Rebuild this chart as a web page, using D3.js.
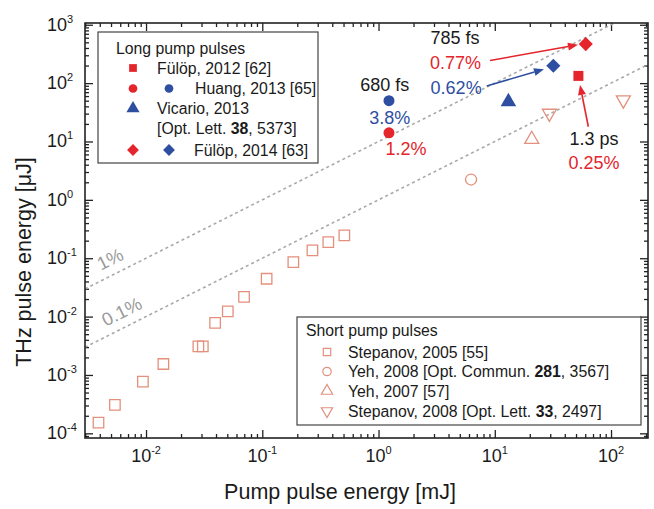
<!DOCTYPE html>
<html>
<head>
<meta charset="utf-8">
<script src="https://cdn.jsdelivr.net/npm/d3@7/dist/d3.min.js"></script>
<style>
  body { margin: 0; background: #fff; }
  svg { display: block; font-family: Arial, "Liberation Sans", sans-serif; }
</style>
</head>
<body>
<svg id="chart" width="654" height="509"></svg>
<script>
// ---------- data ----------
const stepanov2005X = [0.0039, 0.0054, 0.0094, 0.0141, 0.0282, 0.0308, 0.0393, 0.0505, 0.0697, 0.109, 0.185, 0.27, 0.37, 0.508];
const stepanov2005Y = [1.53e-4, 3.08e-4, 7.7e-4, 1.54e-3, 3.09e-3, 3.09e-3, 7.8e-3, 0.0123, 0.0218, 0.0445, 0.0857, 0.136, 0.189, 0.246];
const yeh2008X = [6.25];
const yeh2008Y = [2.23];
const yeh2007X = [20.8];
const yeh2007Y = [10.9];
const stepanov2008X = [29.5, 127.6];
const stepanov2008Y = [30.4, 51.4];
const fulop2012X = [52.4];
const fulop2012Y = [133];
const huangRedX = [1.23];
const huangRedY = [14.1];
const huangBlueX = [1.23];
const huangBlueY = [50];
const vicarioX = [13.1];
const vicarioY = [48];
const fulop2014RedX = [60.6];
const fulop2014RedY = [466];
const fulop2014BlueX = [31.9];
const fulop2014BlueY = [198];

const efficiencyLines = [0.01, 0.001];           // 1 %, 0.1 %
const efficiencyLabels = ["1%", "0.1%"];
const efficiencyLabelX = [0.0041, 0.0045];

const xTickExponents = [-2, -1, 0, 1, 2];
const yTickExponents = [-4, -3, -2, -1, 0, 1, 2, 3];

const annotationText = ["785 fs", "0.77%", "680 fs", "0.62%", "3.8%", "1.2%", "1.3 ps", "0.25%"];
const annotationX = [4.55, 4.6, 1.13, 4.65, 1.25, 1.72, 71.4, 71.4];
const annotationY = [590, 225, 93, 81.7, 24.9, 7.31, 10.9, 4.2];
const annotationColor = ["black", "red", "black", "blue", "blue", "red", "black", "red"];

const arrowFromX = [9.1, 8.53, 63.8];
const arrowFromY = [244, 89.5, 17.9];
const arrowToX = [52, 26.5, 54.1];
const arrowToY = [453, 173, 93];
const arrowColor = ["red", "blue", "red"];

// ---------- style ----------
const C = { red: "#e4252b", blue: "#2e4fa1", salmon: "#e3907c", black: "#1a1a1a", gray: "#a9a9a9", frame: "#222" };

const svg = d3.select("#chart");
const L = 85, R = 648, T = 23, B = 438;
const x = d3.scaleLog().domain([Math.pow(10, -2.525), Math.pow(10, 2.318)]).range([L, R]);
const y = d3.scaleLog().domain([Math.pow(10, -4.08), Math.pow(10, 3.03)]).range([B, T]);

const clipId = "plotclip";
svg.append("clipPath").attr("id", clipId).append("rect").attr("x", L).attr("y", T).attr("width", R - L).attr("height", B - T);

// ---------- ticks ----------
function minorTicks(scale) {
  const [a, b] = scale.domain();
  const out = [];
  for (let e = Math.floor(Math.log10(a)); e <= Math.ceil(Math.log10(b)); e++) {
    for (let k = 2; k <= 9; k++) {
      const v = k * Math.pow(10, e);
      if (v >= a && v <= b) out.push(v);
    }
  }
  return out;
}
const xMajor = xTickExponents.map(e => Math.pow(10, e));
const yMajor = yTickExponents.map(e => Math.pow(10, e));
const xMinor = minorTicks(x);
const yMinor = minorTicks(y);

function addAxis(gen, scale, vals, size, transform) {
  const g = svg.append("g").attr("transform", transform)
    .call(gen(scale).tickValues(vals).tickSize(size).tickFormat(""));
  g.select(".domain").remove();
  g.selectAll(".tick line").attr("stroke", C.frame).attr("stroke-width", 1.3);
}
addAxis(d3.axisBottom, x, xMinor, -4, `translate(0,${B})`);
addAxis(d3.axisBottom, x, xMajor, -8, `translate(0,${B})`);
addAxis(d3.axisTop, x, xMinor, -4, `translate(0,${T})`);
addAxis(d3.axisTop, x, xMajor, -8, `translate(0,${T})`);
addAxis(d3.axisLeft, y, yMinor, -4, `translate(${L},0)`);
addAxis(d3.axisLeft, y, yMajor, -8, `translate(${L},0)`);
addAxis(d3.axisRight, y, yMinor, -4, `translate(${R},0)`);
addAxis(d3.axisRight, y, yMajor, -8, `translate(${R},0)`);

// tick labels
const xl = svg.append("g").attr("fill", C.black).attr("font-size", 18);
xTickExponents.forEach(e => {
  const t = xl.append("text").attr("x", x(Math.pow(10, e))).attr("y", 462).attr("text-anchor", "middle");
  t.append("tspan").text("10");
  t.append("tspan").attr("font-size", 11).attr("dy", -8).text(e);
});
const yl = svg.append("g").attr("fill", C.black).attr("font-size", 18);
yTickExponents.forEach(e => {
  const t = yl.append("text").attr("x", 47).attr("y", y(Math.pow(10, e)) + 6);
  t.append("tspan").text("10");
  t.append("tspan").attr("font-size", 11).attr("dy", -8).text(e);
});

// axis titles
svg.append("text").attr("x", 340).attr("y", 499).attr("text-anchor", "middle")
  .attr("font-size", 21.5).attr("fill", C.black).text("Pump pulse energy [mJ]");
svg.append("text").attr("transform", "translate(31,262) rotate(-90)").attr("text-anchor", "middle")
  .attr("font-size", 21.5).attr("fill", C.black).text("THz pulse energy [\u03bcJ]");

// ---------- efficiency lines ----------
const plot = svg.append("g").attr("clip-path", `url(#${clipId})`);
const [x0, x1] = x.domain();
efficiencyLines.forEach((eff, i) => {
  const f = v => v * 1000 * eff;   // mJ -> uJ
  plot.append("line")
    .attr("x1", x(x0)).attr("y1", y(f(x0))).attr("x2", x(x1)).attr("y2", y(f(x1)))
    .attr("stroke", C.gray).attr("stroke-width", 1.6).attr("stroke-dasharray", "3,3");
  const ang = Math.atan2(y(f(x1)) - y(f(x0)), x(x1) - x(x0)) * 180 / Math.PI;
  const lx = x(efficiencyLabelX[i]), ly = y(f(efficiencyLabelX[i])) - 10;
  svg.append("text").attr("transform", `translate(${lx},${ly}) rotate(${ang})`)
    .attr("text-anchor", "start").attr("font-size", 18.5).attr("fill", "#9a9a9a")
    .text(efficiencyLabels[i]);
});

// ---------- marker helpers ----------
const sym = (type, size) => d3.symbol().type(type).size(size)();
function pts(xs, ys) { return xs.map((v, i) => ({ x: v, y: ys[i] })); }
function drawSeries(g, data, type, size, fill, stroke, sw, rotate) {
  g.selectAll(null).data(data).enter().append("path")
    .attr("d", sym(type, size))
    .attr("transform", d => `translate(${x(d.x)},${y(d.y)})` + (rotate ? ` rotate(${rotate})` : ""))
    .attr("fill", fill).attr("stroke", stroke).attr("stroke-width", sw);
}

// short pump (open)
drawSeries(plot, pts(stepanov2005X, stepanov2005Y), d3.symbolSquare, 110, "none", C.salmon, 1.3);
drawSeries(plot, pts(yeh2008X, yeh2008Y), d3.symbolCircle, 95, "none", C.salmon, 1.3);
drawSeries(plot, pts(yeh2007X, yeh2007Y), d3.symbolTriangle, 85, "none", C.salmon, 1.3);
drawSeries(plot, pts(stepanov2008X, stepanov2008Y), d3.symbolTriangle, 85, "none", C.salmon, 1.3, 180);

// long pump (filled)
drawSeries(plot, pts(fulop2012X, fulop2012Y), d3.symbolSquare, 100, C.red, "none", 0);
drawSeries(plot, pts(huangRedX, huangRedY), d3.symbolCircle, 95, C.red, "none", 0);
drawSeries(plot, pts(huangBlueX, huangBlueY), d3.symbolCircle, 95, C.blue, "none", 0);
drawSeries(plot, pts(vicarioX, vicarioY), d3.symbolTriangle, 105, C.blue, "none", 0);
drawSeries(plot, pts(fulop2014RedX, fulop2014RedY), d3.symbolSquare, 100, C.red, "none", 0, 45);
drawSeries(plot, pts(fulop2014BlueX, fulop2014BlueY), d3.symbolSquare, 100, C.blue, "none", 0, 45);

// ---------- arrows ----------
const colorOf = { red: C.red, blue: C.blue, black: C.black };
arrowFromX.forEach((_, i) => {
  const xa = x(arrowFromX[i]), ya = y(arrowFromY[i]), xb = x(arrowToX[i]), yb = y(arrowToY[i]);
  const ang = Math.atan2(yb - ya, xb - xa);
  const hl = 10, hw = 4;
  const bx = xb - hl * Math.cos(ang), by = yb - hl * Math.sin(ang);
  svg.append("line").attr("x1", xa).attr("y1", ya).attr("x2", bx).attr("y2", by)
    .attr("stroke", colorOf[arrowColor[i]]).attr("stroke-width", 1.6);
  const px = -Math.sin(ang) * hw, py = Math.cos(ang) * hw;
  svg.append("path")
    .attr("d", `M${xb},${yb}L${bx + px},${by + py}L${bx - px},${by - py}Z`)
    .attr("fill", colorOf[arrowColor[i]]);
});

// ---------- annotations ----------
annotationText.forEach((t, i) => {
  svg.append("text").attr("x", x(annotationX[i])).attr("y", y(annotationY[i]))
    .attr("text-anchor", "middle").attr("dominant-baseline", "central")
    .attr("font-size", 18).attr("fill", colorOf[annotationColor[i]]).text(t);
});

// ---------- legend: long pump ----------
const lg = svg.append("g");
lg.append("rect").attr("x", 98).attr("y", 32).attr("width", 220).attr("height", 131)
  .attr("fill", "#fff").attr("stroke", "#444").attr("stroke-width", 1.2);
const lfs = 15.8;
lg.append("text").attr("x", 116).attr("y", 54).attr("font-size", lfs).attr("fill", C.black).text("Long pump pulses");
const lrow = [68, 88.5, 108.5, 128.5, 150];
function legSym(g, cx, cy, type, size, fill, stroke, rot) {
  g.append("path").attr("d", sym(type, size))
    .attr("transform", `translate(${cx},${cy})` + (rot ? ` rotate(${rot})` : ""))
    .attr("fill", fill).attr("stroke", stroke || "none").attr("stroke-width", stroke ? 1.2 : 0);
}
legSym(lg, 133, lrow[0], d3.symbolSquare, 60, C.red);
lg.append("text").attr("x", 157).attr("y", lrow[0] + 5.5).attr("font-size", lfs).attr("fill", C.black).text("Fülöp, 2012 [62]");
legSym(lg, 133, lrow[1], d3.symbolCircle, 60, C.red);
legSym(lg, 169, lrow[1], d3.symbolCircle, 60, C.blue);
lg.append("text").attr("x", 195).attr("y", lrow[1] + 5.5).attr("font-size", lfs).attr("fill", C.black).text("Huang, 2013 [65]");
legSym(lg, 133, lrow[2], d3.symbolTriangle, 75, C.blue);
lg.append("text").attr("x", 157).attr("y", lrow[2] + 5.5).attr("font-size", lfs).attr("fill", C.black).text("Vicario, 2013");
const ol = lg.append("text").attr("x", 157).attr("y", lrow[3] + 5.5).attr("font-size", lfs).attr("fill", C.black);
ol.append("tspan").text("[Opt. Lett. ");
ol.append("tspan").attr("font-weight", "bold").text("38");
ol.append("tspan").text(", 5373]");
legSym(lg, 133, lrow[4], d3.symbolSquare, 70, C.red, null, 45);
legSym(lg, 169, lrow[4], d3.symbolSquare, 70, C.blue, null, 45);
lg.append("text").attr("x", 194).attr("y", lrow[4] + 5.5).attr("font-size", lfs).attr("fill", C.black).text("Fülöp, 2014 [63]");

// ---------- legend: short pump ----------
const sg = svg.append("g");
sg.append("rect").attr("x", 297).attr("y", 317).attr("width", 344).attr("height", 108)
  .attr("fill", "#fff").attr("stroke", "#444").attr("stroke-width", 1.2);
sg.append("text").attr("x", 306).attr("y", 336).attr("font-size", lfs).attr("fill", C.black).text("Short pump pulses");
const srow = [352, 371.5, 391, 411];
legSym(sg, 327, srow[0], d3.symbolSquare, 55, "none", C.salmon);
legSym(sg, 327, srow[1], d3.symbolCircle, 55, "none", C.salmon);
legSym(sg, 327, srow[2], d3.symbolTriangle, 55, "none", C.salmon);
legSym(sg, 327, srow[3], d3.symbolTriangle, 55, "none", C.salmon, 180);
sg.append("text").attr("x", 348).attr("y", srow[0] + 5.5).attr("font-size", lfs).attr("fill", C.black).text("Stepanov, 2005 [55]");
const s2 = sg.append("text").attr("x", 348).attr("y", srow[1] + 5.5).attr("font-size", lfs).attr("fill", C.black);
s2.append("tspan").text("Yeh, 2008 [Opt. Commun. ");
s2.append("tspan").attr("font-weight", "bold").text("281");
s2.append("tspan").text(", 3567]");
sg.append("text").attr("x", 348).attr("y", srow[2] + 5.5).attr("font-size", lfs).attr("fill", C.black).text("Yeh, 2007 [57]");
const s4 = sg.append("text").attr("x", 348).attr("y", srow[3] + 5.5).attr("font-size", lfs).attr("fill", C.black);
s4.append("tspan").text("Stepanov, 2008 [Opt. Lett. ");
s4.append("tspan").attr("font-weight", "bold").text("33");
s4.append("tspan").text(", 2497]");

// ---------- frame ----------
svg.append("rect").attr("x", L).attr("y", T).attr("width", R - L).attr("height", B - T)
  .attr("fill", "none").attr("stroke", C.frame).attr("stroke-width", 1.6);
</script>
</body>
</html>
